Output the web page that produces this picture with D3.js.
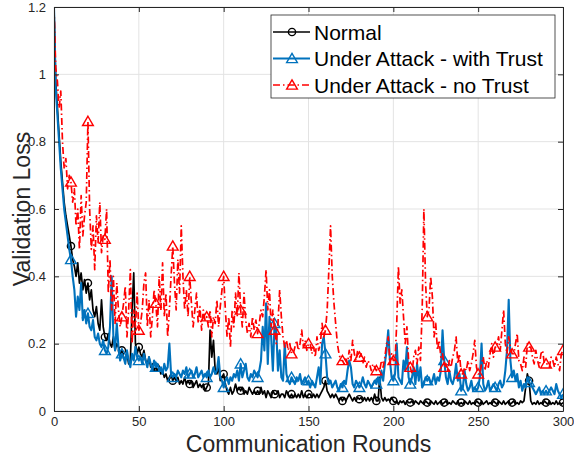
<!DOCTYPE html>
<html>
<head>
<meta charset="utf-8">
<script src="https://cdn.jsdelivr.net/npm/d3@7"></script>
<style>
body { margin: 0; background: #fff; }
text { font-family: "Liberation Sans", Arial, sans-serif; }
</style>
</head>
<body>
<svg id="chart" width="574" height="457"></svg>
<script>
// validation loss per communication round (index = round, 0..300)
var normal = [
1.20, 0.98, 0.90, 0.82, 0.74, 0.68, 0.62, 0.58, 0.55, 0.52,
0.49, 0.45, 0.43, 0.40, 0.44, 0.38, 0.41, 0.36, 0.39, 0.35,
0.38, 0.33, 0.36, 0.30, 0.28, 0.31, 0.26, 0.24, 0.33, 0.25,
0.22, 0.21, 0.23, 0.20, 0.19, 0.22, 0.18, 0.20, 0.19, 0.17,
0.18, 0.16, 0.15, 0.17, 0.14, 0.15, 0.30, 0.41, 0.20, 0.17,
0.19, 0.17, 0.16, 0.18, 0.15, 0.14, 0.16, 0.13, 0.14, 0.12,
0.13, 0.12, 0.13, 0.11, 0.12, 0.10, 0.11, 0.09, 0.10, 0.11,
0.09, 0.10, 0.09, 0.10, 0.08, 0.09, 0.08, 0.10, 0.08, 0.09,
0.08, 0.09, 0.07, 0.08, 0.09, 0.07, 0.08, 0.07, 0.08, 0.06,
0.07, 0.08, 0.24, 0.16, 0.21, 0.12, 0.11, 0.13, 0.09, 0.10,
0.11, 0.08, 0.06, 0.05, 0.07, 0.05, 0.06, 0.08, 0.06, 0.07,
0.06, 0.07, 0.05, 0.06, 0.05, 0.07, 0.06, 0.05, 0.06, 0.05,
0.06, 0.05, 0.07, 0.05, 0.06, 0.04, 0.06, 0.05, 0.04, 0.06,
0.05, 0.05, 0.06, 0.04, 0.05, 0.05, 0.04, 0.06, 0.05, 0.04,
0.05, 0.04, 0.05, 0.04, 0.05, 0.04, 0.06, 0.04, 0.05, 0.04,
0.05, 0.05, 0.04, 0.05, 0.04, 0.05, 0.04, 0.05, 0.06, 0.07,
0.09, 0.06, 0.05, 0.04, 0.05, 0.04, 0.05, 0.04, 0.03, 0.04,
0.03, 0.04, 0.03, 0.04, 0.05, 0.04, 0.03, 0.04, 0.03, 0.04,
0.035, 0.04, 0.03, 0.04, 0.03, 0.04, 0.03, 0.04, 0.03, 0.05,
0.03, 0.03, 0.10, 0.04, 0.03, 0.04, 0.03, 0.035, 0.03, 0.04,
0.03, 0.025, 0.03, 0.02, 0.03, 0.025, 0.03, 0.02, 0.03, 0.025,
0.025, 0.03, 0.02, 0.03, 0.025, 0.02, 0.03, 0.025, 0.02, 0.03,
0.025, 0.02, 0.03, 0.025, 0.02, 0.03, 0.02, 0.025, 0.03, 0.02,
0.025, 0.03, 0.02, 0.025, 0.02, 0.03, 0.025, 0.02, 0.03, 0.02,
0.025, 0.02, 0.03, 0.025, 0.02, 0.03, 0.02, 0.025, 0.02, 0.03,
0.025, 0.02, 0.03, 0.02, 0.025, 0.03, 0.02, 0.025, 0.02, 0.03,
0.025, 0.02, 0.03, 0.025, 0.02, 0.03, 0.02, 0.025, 0.03, 0.02,
0.025, 0.03, 0.02, 0.025, 0.02, 0.03, 0.025, 0.03, 0.07, 0.11,
0.09, 0.03, 0.02, 0.025, 0.02, 0.03, 0.02, 0.025, 0.02, 0.03,
0.025, 0.02, 0.03, 0.02, 0.025, 0.02, 0.03, 0.02, 0.025, 0.02,
0.025
];
var withTrust = [
1.20, 0.96, 0.88, 0.80, 0.72, 0.66, 0.60, 0.56, 0.52, 0.48,
0.45, 0.40, 0.36, 0.28, 0.34, 0.30, 0.38, 0.27, 0.30, 0.26,
0.29, 0.25, 0.24, 0.27, 0.22, 0.21, 0.23, 0.20, 0.19, 0.21,
0.18, 0.17, 0.19, 0.25, 0.40, 0.22, 0.18, 0.26, 0.19, 0.15,
0.17, 0.16, 0.14, 0.18, 0.15, 0.13, 0.17, 0.15, 0.19, 0.16,
0.15, 0.16, 0.14, 0.17, 0.15, 0.13, 0.16, 0.14, 0.12, 0.15,
0.13, 0.14, 0.12, 0.13, 0.11, 0.14, 0.12, 0.13, 0.20, 0.11,
0.10, 0.11, 0.10, 0.12, 0.11, 0.10, 0.12, 0.11, 0.13, 0.10,
0.11, 0.12, 0.10, 0.11, 0.13, 0.10, 0.11, 0.12, 0.10, 0.11,
0.10, 0.12, 0.10, 0.11, 0.13, 0.11, 0.12, 0.16, 0.10, 0.09,
0.07, 0.09, 0.10, 0.08, 0.10, 0.09, 0.11, 0.10, 0.12, 0.09,
0.14, 0.10, 0.12, 0.14, 0.10, 0.09, 0.11, 0.10, 0.12, 0.11,
0.10, 0.12, 0.15, 0.25, 0.18, 0.32, 0.14, 0.28, 0.22, 0.12,
0.26, 0.24, 0.12, 0.18, 0.10, 0.09, 0.20, 0.11, 0.09, 0.08,
0.10, 0.09, 0.08, 0.10, 0.09, 0.11, 0.08, 0.09, 0.10, 0.08,
0.09, 0.07, 0.09, 0.08, 0.07, 0.10, 0.13, 0.08, 0.20, 0.22,
0.17, 0.10, 0.08, 0.09, 0.07, 0.08, 0.09, 0.07, 0.06, 0.08,
0.07, 0.09, 0.08, 0.12, 0.15, 0.13, 0.08, 0.07, 0.09, 0.08,
0.07, 0.08, 0.10, 0.08, 0.07, 0.09, 0.08, 0.07, 0.08, 0.09,
0.08, 0.10, 0.08, 0.12, 0.09, 0.14, 0.18, 0.24, 0.15, 0.10,
0.09, 0.11, 0.20, 0.10, 0.09, 0.08, 0.15, 0.12, 0.19, 0.10,
0.08, 0.10, 0.13, 0.08, 0.14, 0.09, 0.13, 0.07, 0.08, 0.10,
0.09, 0.10, 0.08, 0.09, 0.11, 0.08, 0.10, 0.09, 0.12, 0.24,
0.15, 0.10, 0.08, 0.12, 0.09, 0.08, 0.10, 0.14, 0.09, 0.11,
0.06, 0.07, 0.12, 0.08, 0.06, 0.07, 0.09, 0.06, 0.07, 0.06,
0.07, 0.10, 0.20, 0.08, 0.06, 0.07, 0.09, 0.06, 0.07, 0.08,
0.07, 0.06, 0.08, 0.09, 0.07, 0.08, 0.12, 0.18, 0.33, 0.15,
0.10, 0.12, 0.09, 0.11, 0.07, 0.09, 0.06, 0.08, 0.07, 0.10,
0.085, 0.08, 0.07, 0.06, 0.05, 0.06, 0.07, 0.05, 0.06, 0.05,
0.06, 0.05, 0.06, 0.07, 0.06, 0.05, 0.08, 0.06, 0.05, 0.04,
0.05
];
var noTrust = [
1.20, 1.02, 0.98, 0.90, 0.95, 0.80, 0.72, 0.75, 0.66, 0.70,
0.68, 0.62, 0.66, 0.55, 0.60, 0.48, 0.64, 0.52, 0.58, 0.62,
0.86, 0.60, 0.48, 0.55, 0.42, 0.58, 0.50, 0.62, 0.47, 0.52,
0.51, 0.60, 0.35, 0.45, 0.30, 0.40, 0.26, 0.38, 0.30, 0.25,
0.28, 0.32, 0.37, 0.22, 0.30, 0.42, 0.20, 0.30, 0.25, 0.35,
0.24, 0.26, 0.30, 0.38, 0.41, 0.25, 0.33, 0.22, 0.28, 0.36,
0.32, 0.25, 0.40, 0.30, 0.44, 0.28, 0.35, 0.22, 0.30, 0.40,
0.49, 0.38, 0.30, 0.45, 0.35, 0.55, 0.40, 0.30, 0.36, 0.28,
0.40, 0.32, 0.25, 0.30, 0.35, 0.26, 0.31, 0.24, 0.30, 0.27,
0.28, 0.25, 0.30, 0.22, 0.28, 0.26, 0.33, 0.25, 0.31, 0.36,
0.40, 0.30, 0.22, 0.28, 0.19, 0.30, 0.25, 0.35, 0.28, 0.41,
0.30, 0.25, 0.35, 0.27, 0.23, 0.26, 0.22, 0.28, 0.24, 0.27,
0.23, 0.26, 0.30, 0.28, 0.34, 0.42, 0.30, 0.36, 0.25, 0.30,
0.24, 0.20, 0.26, 0.36, 0.28, 0.22, 0.19, 0.21, 0.18, 0.20,
0.17, 0.17, 0.19, 0.21, 0.18, 0.20, 0.24, 0.19, 0.21, 0.18,
0.20, 0.20, 0.17, 0.19, 0.16, 0.22, 0.18, 0.20, 0.26, 0.22,
0.24, 0.30, 0.42, 0.55, 0.40, 0.32, 0.26, 0.20, 0.17, 0.15,
0.15, 0.14, 0.16, 0.14, 0.18, 0.15, 0.21, 0.17, 0.15, 0.18,
0.16, 0.17, 0.14, 0.16, 0.13, 0.15, 0.14, 0.12, 0.14, 0.13,
0.12, 0.13, 0.12, 0.15, 0.13, 0.16, 0.20, 0.22, 0.14, 0.17,
0.15, 0.15, 0.26, 0.43, 0.32, 0.36, 0.28, 0.20, 0.25, 0.15,
0.13, 0.11, 0.16, 0.18, 0.14, 0.19, 0.15, 0.30, 0.60, 0.38,
0.28, 0.30, 0.40, 0.34, 0.22, 0.26, 0.18, 0.21, 0.16, 0.17,
0.13, 0.14, 0.12, 0.15, 0.13, 0.16, 0.18, 0.22, 0.14, 0.17,
0.11, 0.11, 0.13, 0.12, 0.15, 0.12, 0.14, 0.17, 0.21, 0.13,
0.11, 0.11, 0.14, 0.16, 0.12, 0.15, 0.13, 0.17, 0.20, 0.16,
0.19, 0.19, 0.22, 0.18, 0.24, 0.30, 0.20, 0.17, 0.22, 0.19,
0.17, 0.17, 0.20, 0.23, 0.15, 0.14, 0.12, 0.16, 0.13, 0.20,
0.19, 0.19, 0.16, 0.14, 0.18, 0.15, 0.13, 0.17, 0.18, 0.14,
0.14, 0.14, 0.13, 0.16, 0.15, 0.13, 0.16, 0.14, 0.12, 0.17,
0.18
];
var xTicks = [0, 50, 100, 150, 200, 250, 300];
var yTicks = [0, 0.2, 0.4, 0.6, 0.8, 1, 1.2];
var seriesNames = ["Normal", "Under Attack - with Trust", "Under Attack - no Trust"];

var svg = d3.select("#chart");
var pLeft = 54, pRight = 563, pTop = 7, pBottom = 411;

var x = d3.scaleLinear().domain([0, 300]).range([pLeft, pRight]);
var y = d3.scaleLinear().domain([0, 1.2]).range([pBottom, pTop]);

// grid
var grid = svg.append("g");
grid.selectAll(".gx").data(xTicks).enter().append("line")
	.attr("x1", function(d) { return x(d) }).attr("x2", function(d) { return x(d) })
	.attr("y1", pTop).attr("y2", pBottom)
	.style("stroke", "#e3e3e3").style("stroke-width", 1);
grid.selectAll(".gy").data(yTicks).enter().append("line")
	.attr("y1", function(d) { return y(d) }).attr("y2", function(d) { return y(d) })
	.attr("x1", pLeft).attr("x2", pRight)
	.style("stroke", "#e3e3e3").style("stroke-width", 1);

var series = [
	{ name: seriesNames[0], values: normal, color: "#000000", width: 1.7, dash: null, marker: "circle" },
	{ name: seriesNames[1], values: withTrust, color: "#0072BD", width: 2.1, dash: null, marker: "triangle" },
	{ name: seriesNames[2], values: noTrust, color: "#FF0000", width: 1.7, dash: "7,3,1.5,3", marker: "triangle" }
];

svg.append("clipPath").attr("id", "clip").append("rect")
	.attr("x", pLeft).attr("y", pTop).attr("width", pRight - pLeft).attr("height", pBottom - pTop);

var plot = svg.append("g").attr("clip-path", "url(#clip)");

var line = d3.line()
	.x(function(d, i) { return x(i) })
	.y(function(d) { return y(d) });

var tri = d3.symbol().type(d3.symbolTriangle).size(50);

function drawMarker(g, kind, color, px, py) {
	if (kind == "circle") {
		g.append("circle").attr("cx", px).attr("cy", py).attr("r", 3.6)
			.style("fill", "none").style("stroke", color).style("stroke-width", 1.4);
	} else {
		g.append("path").attr("d", tri())
			.attr("transform", "translate(" + px + "," + (py + 1) + ")")
			.style("fill", "none").style("stroke", color).style("stroke-width", 1.4);
	}
}

series.forEach(function(s) {
	plot.append("path")
		.datum(s.values)
		.attr("d", line)
		.style("fill", "none")
		.style("stroke", s.color)
		.style("stroke-width", s.width)
		.style("stroke-linejoin", "round")
		.style("stroke-dasharray", s.dash);
	s.values.forEach(function(v, i) {
		if (i > 0 && i % 10 == 0) drawMarker(plot, s.marker, s.color, x(i), y(v));
	});
});

// axes box
var xAxis = d3.axisBottom(x).tickValues(xTicks).tickSizeInner(-5).tickSizeOuter(0).tickPadding(6);
var yAxis = d3.axisLeft(y).tickValues(yTicks).tickSizeInner(-5).tickSizeOuter(0).tickPadding(8)
	.tickFormat(function(d) { return d3.format("")(d) });

var gx = svg.append("g").attr("transform", "translate(0," + pBottom + ")").call(xAxis);
var gy = svg.append("g").attr("transform", "translate(" + pLeft + ",0)").call(yAxis);
var gxt = svg.append("g").attr("transform", "translate(0," + pTop + ")")
	.call(d3.axisTop(x).tickValues(xTicks).tickSizeInner(-5).tickSizeOuter(0).tickFormat(""));
var gyr = svg.append("g").attr("transform", "translate(" + pRight + ",0)")
	.call(d3.axisRight(y).tickValues(yTicks).tickSizeInner(-5).tickSizeOuter(0).tickFormat(""));

[gx, gy, gxt, gyr].forEach(function(g) {
	g.selectAll("path").style("stroke", "#262626").style("stroke-width", 1);
	g.selectAll("line").style("stroke", "#262626");
	g.selectAll("text").style("font-size", "13px").style("fill", "#262626")
		.style("font-family", "Liberation Sans, Arial, sans-serif");
});

// axis labels
svg.append("text").attr("x", (pLeft + pRight) / 2).attr("y", 452)
	.attr("text-anchor", "middle").style("font-size", "23px").style("fill", "#262626")
	.text("Communication Rounds");
svg.append("text").attr("transform", "translate(30," + ((pTop + pBottom) / 2) + ") rotate(-90)")
	.attr("text-anchor", "middle").style("font-size", "23px").style("fill", "#262626")
	.text("Validation Loss");

// legend
var lg = svg.append("g");
lg.append("rect").attr("x", 271).attr("y", 15).attr("width", 284).attr("height", 83)
	.style("fill", "#fff").style("stroke", "#262626").style("stroke-width", 0.8);
series.forEach(function(s, i) {
	var cy = 32 + i * 26.5;
	lg.append("line").attr("x1", 273).attr("x2", 310).attr("y1", cy).attr("y2", cy)
		.style("stroke", s.color).style("stroke-width", s.width)
		.style("stroke-dasharray", s.dash);
	drawMarker(lg, s.marker, s.color, 292, cy);
	lg.append("text").attr("x", 314).attr("y", cy + 7.5)
		.style("font-size", "21px").style("fill", "#000").text(s.name);
});
</script>
</body>
</html>
